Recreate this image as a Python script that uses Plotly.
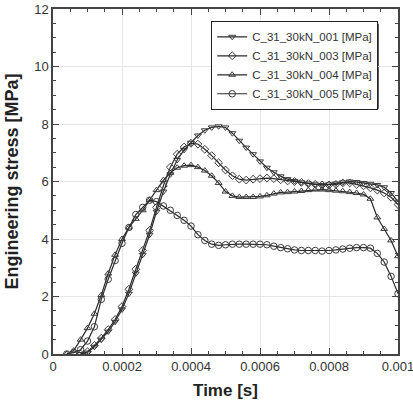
import plotly.graph_objects as go

time_s = [0.0, 0.00002, 0.00004, 0.00006, 0.00008, 0.0001, 0.00012, 0.00014, 0.00016, 0.00018,
          0.0002, 0.00022, 0.00024, 0.00026, 0.00028, 0.0003, 0.00032, 0.00034, 0.00036, 0.00038,
          0.0004, 0.00042, 0.00044, 0.00046, 0.00048, 0.0005, 0.00052, 0.00054, 0.00056, 0.00058,
          0.0006, 0.00062, 0.00064, 0.00066, 0.00068, 0.0007, 0.00072, 0.00074, 0.00076, 0.00078,
          0.0008, 0.00082, 0.00084, 0.00086, 0.00088, 0.0009, 0.00092, 0.00094, 0.00096, 0.00098,
          0.001]

s001 = [None, None, None, None, 0.0, 0.05, 0.25, 0.5, 0.78, 1.12,
        1.55, 2.1, 2.8, 3.45, 4.15, 4.95, 5.65, 6.25, 6.75, 7.1,
        7.35, 7.6, 7.78, 7.88, 7.92, 7.88, 7.68, 7.42, 7.18, 6.95,
        6.7, 6.48, 6.32, 6.18, 6.08, 6.02, 5.97, 5.93, 5.9, 5.88,
        5.9, 5.93, 5.97, 6.0, 5.98, 5.95, 5.92, 5.88, 5.8, 5.6,
        5.3]

s003 = [None, None, None, None, 0.0, 0.08, 0.3, 0.55, 0.85, 1.2,
        1.65, 2.25, 2.95, 3.6, 4.3, 5.1, 5.85, 6.5, 6.95, 7.2,
        7.33, 7.3, 7.12, 6.9, 6.65, 6.4, 6.2, 6.08, 6.05, 6.08,
        6.1, 6.12, 6.1, 6.06, 6.02, 6.0, 5.97, 5.93, 5.9, 5.88,
        5.88, 5.9, 5.95, 5.95, 5.9, 5.85, 5.78, 5.7, 5.6, 5.45,
        5.2]

s004 = [None, None, 0.0, 0.12, 0.5, 0.9, 1.4, 2.05, 2.8, 3.45,
        4.0, 4.4, 4.7, 5.0, 5.35, 5.7, 6.05, 6.3, 6.48, 6.55,
        6.57, 6.5, 6.38, 6.2, 5.95, 5.65, 5.5, 5.46, 5.46, 5.46,
        5.48, 5.52, 5.58, 5.62, 5.63, 5.65, 5.67, 5.7, 5.72, 5.72,
        5.7, 5.68, 5.66, 5.63, 5.6, 5.55, 5.4, 4.75, 4.35, 3.95,
        3.4]

s005 = [None, None, 0.0, 0.05, 0.15, 0.45, 0.95, 1.9, 2.6, 3.25,
        3.85, 4.4, 4.85, 5.1, 5.35, 5.3, 5.15, 5.0, 4.82, 4.65,
        4.45, 4.15, 3.95, 3.82, 3.78, 3.8, 3.82, 3.82, 3.82, 3.82,
        3.82, 3.8, 3.75, 3.7, 3.66, 3.62, 3.6, 3.6, 3.6, 3.58,
        3.6, 3.62, 3.65, 3.68, 3.7, 3.7, 3.68, 3.5, 3.2, 2.7,
        2.1]

series_names = ["C_31_30kN_001 [MPa]", "C_31_30kN_003 [MPa]",
                "C_31_30kN_004 [MPa]", "C_31_30kN_005 [MPa]"]
series_values = [s001, s003, s004, s005]
series_symbols = ["triangle-down-open", "diamond-open", "triangle-up-open", "circle-open"]
series_sizes = [6, 6, 6, 6.5]

x_ticks = [0, 0.0002, 0.0004, 0.0006, 0.0008, 0.001]
x_ticklabels = ["0", "0.0002", "0.0004", "0.0006", "0.0008", "0.001"]
y_ticks = [0, 2, 4, 6, 8, 10, 12]

fig = go.Figure()
for name, vals, sym, sz in zip(series_names, series_values, series_symbols, series_sizes):
    fig.add_trace(go.Scatter(
        x=time_s, y=vals, name=name, mode="lines+markers",
        line=dict(color="#2a2a2a", width=1.2),
        marker=dict(symbol=sym, size=sz, color="#3a3a3a", line=dict(width=1, color="#3a3a3a")),
    ))

# legend shadow
fig.add_shape(type="rect", xref="paper", yref="paper",
              x0=0.467, x1=0.944, y0=0.711, y1=0.957,
              fillcolor="#111", line=dict(width=0), layer="below")

axis_common = dict(
    showline=True, linecolor="#444", linewidth=1.5, mirror="ticks",
    ticks="inside", ticklen=6, tickcolor="#444", tickwidth=1,
    showgrid=True, gridcolor="#e6e6e6", gridwidth=1, zeroline=False,
    automargin=False,
    tickfont=dict(family="Liberation Sans, Arial, sans-serif", size=13, color="#333"),
)

fig.update_layout(
    width=413, height=402,
    margin=dict(l=53, r=15, t=9, b=48),
    paper_bgcolor="white", plot_bgcolor="white",
    showlegend=True,
    legend=dict(
        x=0.458, y=0.965, xanchor="left", yanchor="top",
        bgcolor="white", bordercolor="#222", borderwidth=1.2,
        font=dict(family="Liberation Sans, Arial, sans-serif", size=11.5, color="#333"),
        tracegroupgap=0, itemwidth=30,
    ),
    xaxis=dict(
        range=[0, 0.001], tickvals=x_ticks, ticktext=x_ticklabels,
        ticklabeloverflow="allow",
        minor=dict(dtick=0.00005, ticks="inside", ticklen=3, tickcolor="#444", showgrid=False),
        title=dict(text="<b>Time [s]</b>", standoff=11,
                   font=dict(family="Liberation Sans, Arial, sans-serif", size=17, color="#222")),
        **axis_common,
    ),
    yaxis=dict(
        range=[0, 12], tickvals=y_ticks,
        ticklabeloverflow="allow",
        minor=dict(dtick=0.5, ticks="inside", ticklen=3, tickcolor="#444", showgrid=False),
        title=dict(text="<b>Engineering stress [MPa]</b>", standoff=11,
                   font=dict(family="Liberation Sans, Arial, sans-serif", size=18, color="#222")),
        **axis_common,
    ),
)

fig.write_html("out.html")
